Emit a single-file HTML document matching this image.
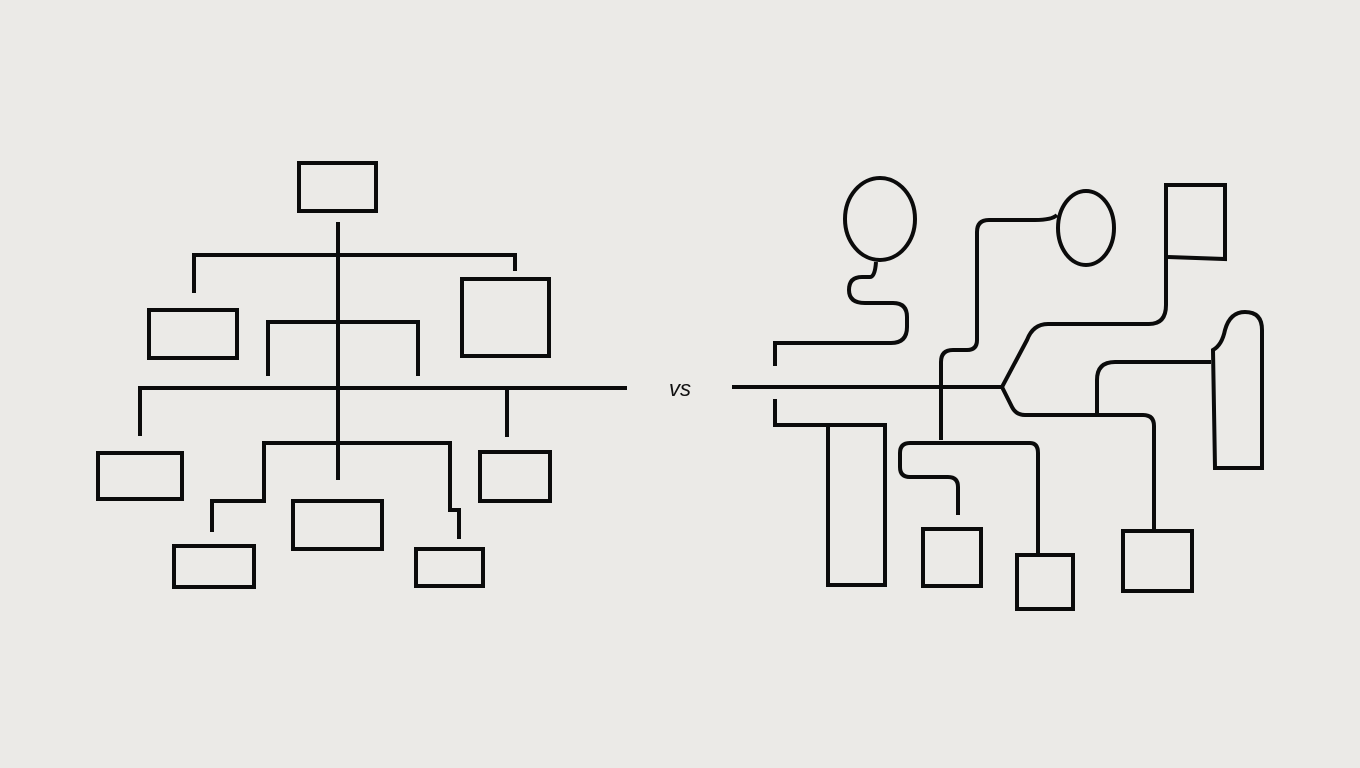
<!DOCTYPE html>
<html><head><meta charset="utf-8"><style>
html,body{margin:0;padding:0;background:#ebeae7;}
svg{display:block}
</style></head><body>
<svg width="1360" height="768" viewBox="0 0 1360 768" xmlns="http://www.w3.org/2000/svg">
<rect width="1360" height="768" fill="#ebeae7"/>
<g fill="none" stroke="#0b0b0b" stroke-width="4" stroke-linejoin="miter">
<!-- left tree -->
<rect x="299" y="163" width="77" height="48"/>
<path d="M338 222V480"/>
<path d="M194 293V255H515V271"/>
<rect x="149" y="310" width="88" height="48"/>
<rect x="462" y="279" width="87" height="77"/>
<path d="M268 376V322H418V376"/>
<path d="M140 436V388H627"/>
<path d="M507 388V437"/>
<rect x="98" y="453" width="84" height="46"/>
<rect x="480" y="452" width="70" height="49"/>
<path d="M212 532V501H264V443H450V510H459V539"/>
<rect x="293" y="501" width="89" height="48"/>
<rect x="174" y="546" width="80" height="41"/>
<rect x="416" y="549" width="67" height="37"/>
<!-- right -->
<path d="M732 387H1002"/>
<path d="M775 366V343H891Q907 343 907 327V317Q907 303 893 303H865Q849 303 849 290Q849 277 862 277H870Q875 277 876 262"/>
<ellipse cx="880" cy="219" rx="35" ry="41"/>
<path d="M775 399V425H884"/>
<rect x="828" y="425" width="57" height="160"/>
<path d="M941 440V362Q941 350 953 350H967Q977 350 977 340V232Q977 220 989 220H1035Q1052 220 1057 215"/>
<ellipse cx="1086" cy="228" rx="28" ry="37"/>
<path d="M941 443H1030Q1038 443 1038 453V553"/>
<path d="M941 443H910Q900 443 900 453V467Q900 477 910 477H948Q958 477 958 487V515"/>
<rect x="923" y="529" width="58" height="57"/>
<rect x="1017" y="555" width="56" height="54"/>
<path d="M1002 387L1027 340Q1033 324 1048 324H1149Q1166 324 1166 305V183"/>
<path d="M1168 185H1225V259L1168 257"/>
<path d="M1002 387L1012 407Q1016 415 1025 415H1143Q1154 415 1154 426V530"/>
<rect x="1123" y="531" width="69" height="60"/>
<path d="M1097 415V380Q1097 362 1115 362H1211"/>
<path d="M1215 468L1213 350Q1222 345 1225 330Q1230 312 1245 312Q1262 312 1262 330V468Z"/>
</g>
<text x="680" y="396" font-family="Liberation Sans, sans-serif" font-style="italic" font-size="22" fill="#111" text-anchor="middle">vs</text>
</svg>
</body></html>
